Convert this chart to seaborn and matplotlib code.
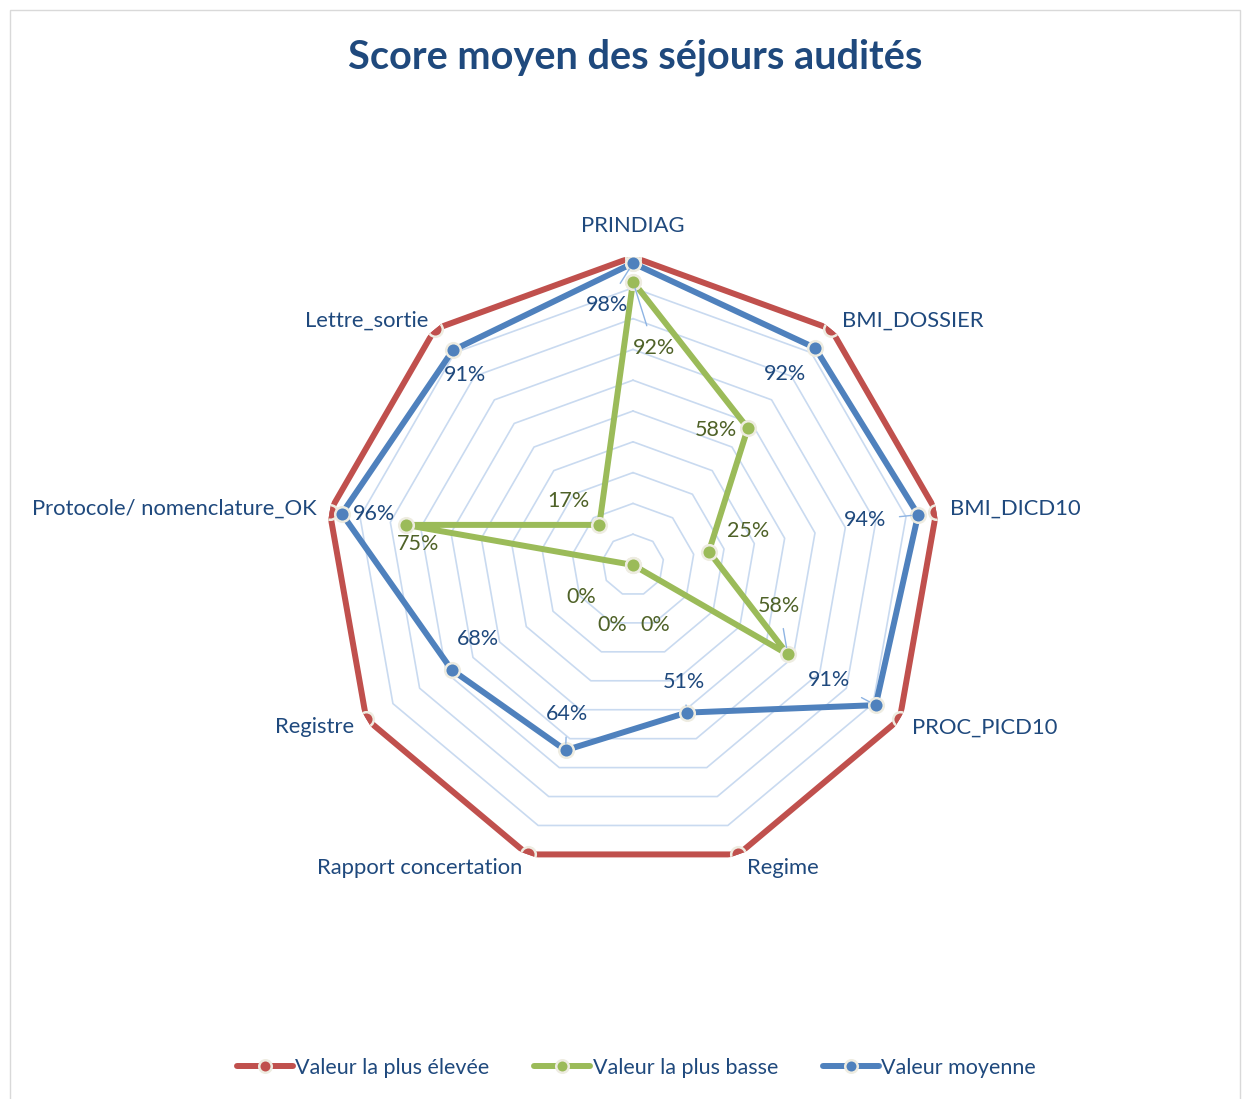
import numpy as np
import pandas as pd
import matplotlib
matplotlib.use("Agg")
import matplotlib.pyplot as plt
from matplotlib.lines import Line2D
from matplotlib.patches import Rectangle
import seaborn as sns

# --- data -------------------------------------------------------------
categories = ["PRINDIAG", "BMI_DOSSIER", "BMI_DICD10", "PROC_PICD10", "Regime",
              "Rapport concertation", "Registre", "Protocole/ nomenclature_OK",
              "Lettre_sortie"]
max_values = [1.00, 1.00, 1.00, 1.00, 1.00, 1.00, 1.00, 1.00, 1.00]
min_values = [0.92, 0.58, 0.25, 0.58, 0.00, 0.00, 0.00, 0.75, 0.17]
mean_values = [0.98, 0.92, 0.94, 0.91, 0.51, 0.64, 0.68, 0.96, 0.91]
series_names = ["Valeur la plus élevée", "Valeur la plus basse", "Valeur moyenne"]
grid_levels = [0.1, 0.2, 0.3, 0.4, 0.5, 0.6, 0.7, 0.8, 0.9, 1.0]

# --- style ------------------------------------------------------------
sns.set_theme(style="white")
plt.rcParams["font.family"] = ["Lato", "DejaVu Sans"]

RED, GREEN, BLUE = "#C0504D", "#9BBB59", "#4F81BD"
TXT_BLUE = "#1F497D"
TXT_GREEN = "#4F6228"
GRID = "#C9DAF0"
LEADER = "#8EB4E3"
MK_EDGE = "#EEECE1"

W, H = 1248, 1099
fig = plt.figure(figsize=(W / 100, H / 100), dpi=100)
fig.patch.set_facecolor("white")

# chart border
fig.patches.append(Rectangle((10 / W, -0.05), (1240 - 10) / W, 1 - 10 / H + 0.05,
                             transform=fig.transFigure, fill=False,
                             edgecolor="#D9D9D9", lw=1.0))

cx, cy, R = 633, 565, 308
ax = fig.add_axes([(cx - R) / W, (H - cy - R) / H, 2 * R / W, 2 * R / H],
                  projection="polar")
ax.set_theta_offset(np.pi / 2)
ax.set_theta_direction(-1)
ax.set_ylim(0, 1)
ax.grid(False)
ax.spines["polar"].set_visible(False)
ax.set_xticks([])
ax.set_yticks([])
ax.patch.set_alpha(0)

n = len(categories)
theta = np.arange(n) * 2 * np.pi / n
theta_closed = np.append(theta, theta[0])

# polygonal gridlines
for lvl in grid_levels:
    ax.plot(theta_closed, [lvl] * (n + 1), color=GRID, lw=1.2, zorder=1)

# long-form table for seaborn
rows = []
for name, vals in zip(series_names, [max_values, min_values, mean_values]):
    closed = list(vals) + [vals[0]]
    for i, (t, v) in enumerate(zip(theta_closed, closed)):
        rows.append({"series": name, "theta": t, "value": v, "order": i})
df = pd.DataFrame(rows)

palette = {series_names[0]: RED, series_names[1]: GREEN, series_names[2]: BLUE}
for z, name in enumerate(series_names):
    sub = df[df["series"] == name]
    sns.lineplot(data=sub, x="theta", y="value", sort=False, estimator=None,
                 color=palette[name], lw=4.3, marker="o", markersize=10.5,
                 markeredgecolor=MK_EDGE, markeredgewidth=1.8,
                 ax=ax, zorder=3 + z, legend=False)
ax.set_xlabel("")
ax.set_ylabel("")
ax.set_ylim(0, 1)
ax.set_xticks([])
ax.set_yticks([])

# category labels (offset in points from the 100% vertex)
cat_offsets = [
    (0, 22, "center", "center"),
    (8, 6, "left", "center"),
    (10, 2, "left", "center"),
    (9, -6, "left", "center"),
    (6, -10, "left", "center"),
    (-4, -10, "right", "center"),
    (-9, -6, "right", "center"),
    (-9, 2, "right", "center"),
    (-5, 6, "right", "center"),
]
for t, cat, (dx, dy, ha, va) in zip(theta, categories, cat_offsets):
    ax.annotate(cat, xy=(t, 1.0), xytext=(dx, dy), textcoords="offset points",
                ha=ha, va=va, fontsize=15.8, color=TXT_BLUE, annotation_clip=False)

# data labels: (dx, dy) offsets in points, leader flag
mean_offsets = [(-19, -30, True), (-22, -19, False), (-38, -4, True),
                (-34, 18, True), (-2, 22, True), (1, 26, True),
                (19, 22, False), (23, 0, False), (9, -18, False)]
min_offsets = [(15, -48, True), (-23, -1, False), (28, 15, False),
               (-6, 35, True), (16, -43, False), (-15, -43, False),
               (-37, -23, False), (9, -14, False), (-22, 17, False)]


def put_labels(values, offsets, color):
    for t, v, (dx, dy, leader) in zip(theta, values, offsets):
        kw = {}
        if leader:
            kw["arrowprops"] = dict(arrowstyle="-", color=LEADER, lw=1.0,
                                    shrinkA=7, shrinkB=5)
        ax.annotate(f"{v * 100:.0f}%", xy=(t, v), xytext=(dx, dy),
                    textcoords="offset points", ha="center", va="center",
                    fontsize=15.5, color=color, zorder=10,
                    annotation_clip=False, **kw)


put_labels(mean_values, mean_offsets, TXT_BLUE)
put_labels(min_values, min_offsets, TXT_GREEN)

# title
fig.text(0.509, 1 - 57 / H, "Score moyen des séjours audités", ha="center",
         va="center", fontsize=28.5, fontweight="bold", color=TXT_BLUE)

# legend
handles = [Line2D([0], [0], color=c, lw=4.3, marker="o", markersize=9,
                  markeredgecolor=MK_EDGE, markeredgewidth=1.8)
           for c in (RED, GREEN, BLUE)]
leg = fig.legend(handles, series_names, loc="center", ncol=3,
                 bbox_to_anchor=(0.51, 1 - 1068 / H), frameon=False,
                 fontsize=15.5, handlelength=2.6, handletextpad=0.1,
                 columnspacing=2.1)
for txt in leg.get_texts():
    txt.set_color(TXT_BLUE)

fig.savefig("out.png", dpi=100)
